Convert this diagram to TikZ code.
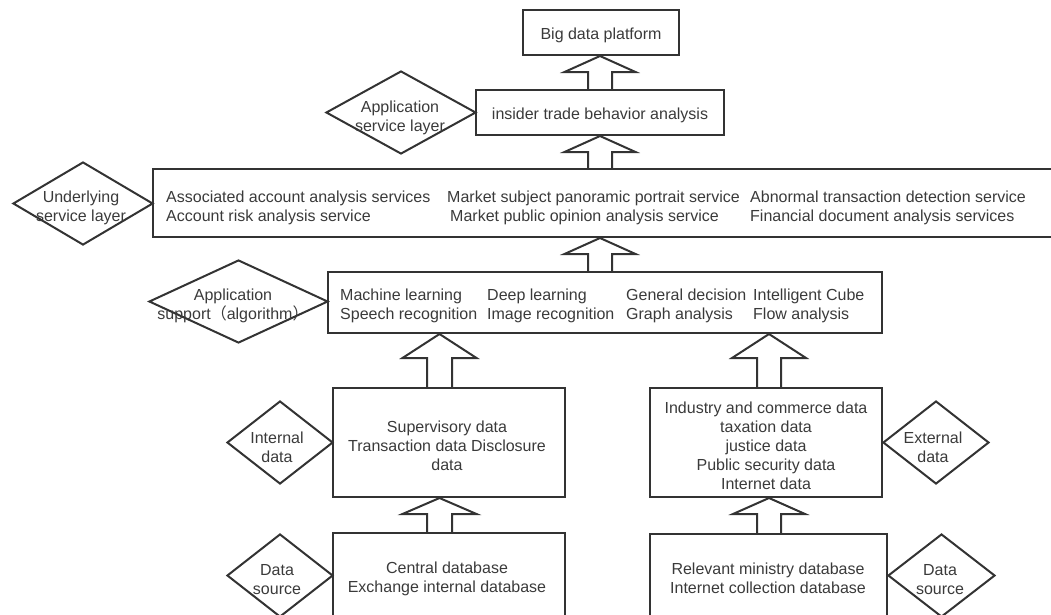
\documentclass[tikz,border=0pt]{standalone}
\usepackage{fontspec}
\setmainfont{Liberation Sans}
\newfontfamily\cjk{Noto Sans CJK SC}
\usetikzlibrary{shapes.geometric,calc}
\definecolor{ink}{HTML}{333333}
\definecolor{txt}{HTML}{3A3A3A}
\tikzset{
  fnt/.style={font=\fontsize{16}{19}\selectfont},
  box/.style={draw=ink, line width=2pt, rectangle, inner sep=0pt},
  dia/.style={draw=ink, line width=2pt, diamond, inner sep=0pt, minimum height=83pt},
  lbl/.style={text=txt, align=center, inner sep=0pt, yshift=-2.5pt, fnt},
  col/.style={text=txt, align=left, anchor=west, inner sep=0pt, yshift=-2.5pt, fnt},
  blk/.style={draw=ink, line width=2pt, line join=miter}
}
% #1 x-coordinate name, #2 lower node, #3 upper node, #4 head length, #5 half head, #6 half shaft
\newcommand\blockarrow[6]{%
  \draw[blk] ($(#2.north -| #1)+(-#6,0)$) -- ($(#3.south -| #1)+(-#6,#4)$)
    -- ($(#3.south -| #1)+(-#5,#4)$) -- (#3.south -| #1)
    -- ($(#3.south -| #1)+(#5,#4)$) -- ($(#3.south -| #1)+(#6,#4)$)
    -- ($(#2.north -| #1)+(#6,0)$);
}
\begin{document}
\begin{tikzpicture}[x=1pt,y=-1pt]
\useasboundingbox (0,0) rectangle (1051,614);

% boxes
\node[box, minimum width=156pt, minimum height=45pt] (big) at (601,32.5) {};
\node[box, minimum width=248pt, minimum height=45pt] (ins) at (600,112.5) {};
\node[box, minimum width=907pt, minimum height=68pt] (und) at (606.5,203) {};
\node[box, minimum width=554pt, minimum height=61pt] (alg) at (605,302.5) {};
\node[box, minimum width=232pt, minimum height=109pt] (sup) at (449,442.5) {};
\node[box, minimum width=232pt, minimum height=109pt] (ext) at (766,442.5) {};
\node[box, minimum width=232pt, minimum height=92pt] (cen) at (449,579) {};
\node[box, minimum width=237pt, minimum height=91pt] (rel) at (768.5,579.5) {};

% box texts
\node[lbl] (bigt) at (601,32.5) {Big data platform};
\node[lbl] (inst) at (600,112.5) {insider trade behavior analysis};
\node[lbl] (supt) at (447,443) {Supervisory data\\Transaction data Disclosure\\data};
\node[lbl] (extt) at (766,443) {Industry and commerce data\\taxation data\\justice data\\Public security data\\Internet data};
\node[lbl] (cent) at (447,576) {Central database\\Exchange internal database};
\node[lbl] (relt) at (768,576) {Relevant ministry database\\Internet collection database};

% column texts
\node[col] (u1) at (166,205) {Associated account analysis services\\Account risk analysis service};
\node[col] (u2) at (447,205) {Market subject panoramic portrait service\\\hspace{3pt}Market public opinion analysis service};
\node[col] (u3) at (750,205) {Abnormal transaction detection service\\Financial document analysis services};
\node[col] (a1) at (340,303.5) {Machine learning\\Speech recognition};
\node[col] (a2) at (487,303.5) {Deep learning\\Image recognition};
\node[col] (a3) at (626,303.5) {General decision\\Graph analysis};
\node[col] (a4) at (753,303.5) {Intelligent Cube\\Flow analysis};

% diamonds
\node[dia, minimum width=150pt] (d1) at (401,112.5) {};
\node[dia, minimum width=140pt] (d2) at (83,203.5) {};
\node[dia, minimum width=179pt] (d3) at (238.5,301.5) {};
\node[dia, minimum width=106pt] (d4) at (280,442.5) {};
\node[dia, minimum width=106pt] (d5) at (280,575.5) {};
\node[dia, minimum width=106pt] (d6) at (936,442.5) {};
\node[dia, minimum width=107pt] (d7) at (941.5,575.5) {};
\node[lbl] (t1) at (400,115.5) {Application\\service layer};
\node[lbl] (t2) at (81,205) {Underlying\\service layer};
\node[lbl] (t3) at (233,303.5) {Application\\support{\cjk （}algorithm{\cjk ）}};
\node[lbl] (t4) at (277,445) {Internal\\data};
\node[lbl] (t5) at (277,577.5) {Data\\source};
\node[lbl] (t6) at (933,445) {External\\data};
\node[lbl] (t7) at (940,577.5) {Data\\source};

% arrow axes
\coordinate (xm) at (600,0);
\coordinate (xl) at (439.5,0);
\coordinate (xr) at (769,0);

\blockarrow{xm}{ins}{big}{16}{35.5}{12}
\blockarrow{xm}{und}{ins}{16}{35.5}{12}
\blockarrow{xm}{alg}{und}{16}{35.5}{12}
\blockarrow{xl}{sup}{alg}{24}{37}{12.5}
\blockarrow{xl}{cen}{sup}{16}{37}{12.5}
\blockarrow{xr}{ext}{alg}{24}{37}{12}
\blockarrow{xr}{rel}{ext}{16}{36}{12}
\end{tikzpicture}
\end{document}
